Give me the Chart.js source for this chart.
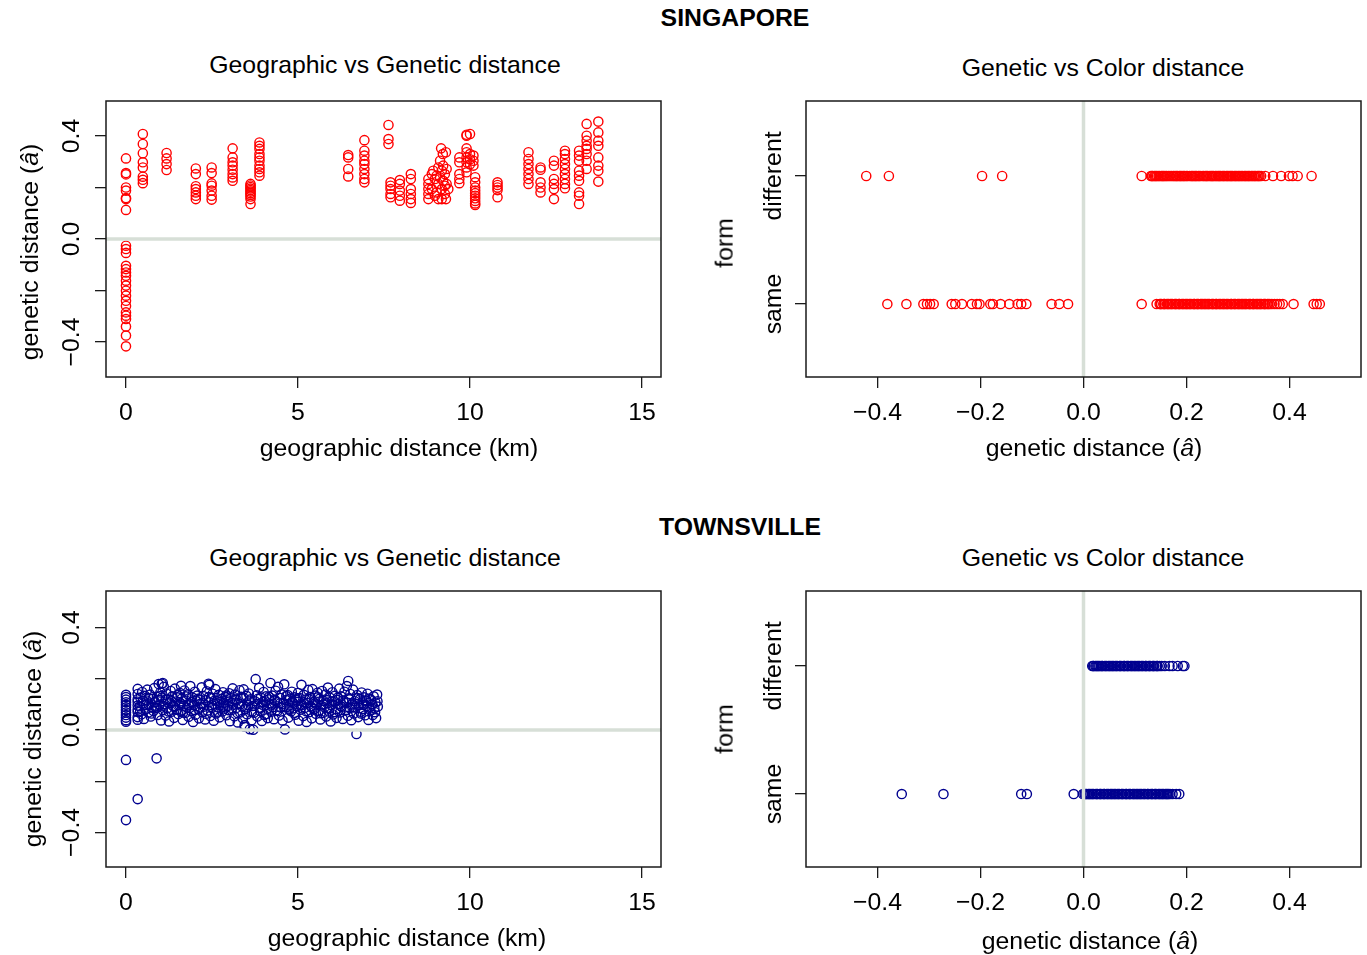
<!DOCTYPE html>
<html>
<head>
<meta charset="utf-8">
<script src="https://cdn.jsdelivr.net/npm/chart.js@4.4.1/dist/chart.umd.min.js"></script>
<style>
html,body{margin:0;padding:0;background:#fff;}
body{width:1367px;height:955px;position:relative;overflow:hidden;font-family:"Liberation Sans",Arial,Helvetica,sans-serif;}
canvas{position:absolute;}
.t{position:absolute;transform:translate(-50%,-50%);white-space:nowrap;font-size:24.8px;line-height:1;color:#000;}
.b{font-weight:bold;}
.r{transform:translate(-50%,-50%) rotate(-90deg);}
</style>
</head>
<body>
<canvas id="c1" width="683" height="380" style="left:0;top:90px"></canvas>
<canvas id="c2" width="667" height="380" style="left:700px;top:90px"></canvas>
<canvas id="c3" width="683" height="380" style="left:0;top:580px"></canvas>
<canvas id="c4" width="667" height="380" style="left:700px;top:580px"></canvas>

<div class="t b" style="left:735px;top:18px">SINGAPORE</div>
<div class="t" style="left:385px;top:65px">Geographic vs Genetic distance</div>
<div class="t" style="left:1103px;top:68px">Genetic vs Color distance</div>
<div class="t" style="left:399px;top:448px">geographic distance (km)</div>
<div class="t" style="left:1094px;top:448px">genetic distance (<i>â</i>)</div>
<div class="t r" style="left:30px;top:252px">genetic distance (<i>â</i>)</div>
<div class="t r" style="left:725px;top:243px">form</div>

<div class="t b" style="left:740px;top:527px">TOWNSVILLE</div>
<div class="t" style="left:385px;top:558px">Geographic vs Genetic distance</div>
<div class="t" style="left:1103px;top:558px">Genetic vs Color distance</div>
<div class="t" style="left:407px;top:938px">geographic distance (km)</div>
<div class="t" style="left:1090px;top:941px">genetic distance (<i>â</i>)</div>
<div class="t r" style="left:33px;top:739px">genetic distance (<i>â</i>)</div>
<div class="t r" style="left:725px;top:729px">form</div>

<script>
// ---------------- DATA ----------------
const geoTicks = [0, 5, 10, 15];
const geoTickLabels = ['0', '5', '10', '15'];
const genTicks = [-0.4, -0.2, 0, 0.2, 0.4];
const genTickLabelsX = ['\u22120.4', '\u22120.2', '0.0', '0.2', '0.4'];
const genTickLabelsY = ['\u22120.4', '', '0.0', '', '0.4'];
const formTicks = [1, 2];
const formCategories = ['same', 'different'];

// Singapore: geographic distance (km) vs genetic distance
const singGeoGen = [
[0,0.313],[0,0.256],[0,0.251],[0,0.2],[0,0.188],[0,0.159],[0,0.155],[0,0.113],
[0,-0.026],[0,-0.039],[0,-0.054],[0,-0.104],[0,-0.117],[0,-0.13],[0,-0.143],[0,-0.162],[0,-0.181],[0,-0.201],
[0,-0.22],[0,-0.24],[0,-0.26],[0,-0.285],[0,-0.298],[0,-0.311],[0,-0.34],[0,-0.375],[0,-0.417],
[0.49,0.408],[0.49,0.369],[0.49,0.333],[0.49,0.298],[0.49,0.278],[0.49,0.242],[0.49,0.23],[0.49,0.217],
[1.18,0.334],[1.18,0.313],[1.18,0.291],[1.18,0.268],
[2.03,0.274],[2.03,0.252],[2.03,0.205],[2.03,0.194],[2.03,0.181],[2.03,0.168],[2.03,0.155],
[2.49,0.278],[2.49,0.256],[2.49,0.216],[2.49,0.207],[2.49,0.188],[2.49,0.168],[2.49,0.153],
[3.1,0.352],[3.1,0.317],[3.1,0.298],[3.1,0.285],[3.1,0.269],[3.1,0.252],[3.1,0.239],[3.1,0.226],
[3.62,0.214],[3.62,0.208],[3.62,0.202],[3.62,0.196],[3.62,0.19],[3.62,0.184],[3.62,0.178],[3.62,0.172],[3.62,0.165],[3.62,0.155],[3.62,0.136],
[3.88,0.375],[3.88,0.362],[3.88,0.35],[3.88,0.33],[3.88,0.317],[3.88,0.304],[3.88,0.285],[3.88,0.272],[3.88,0.259],[3.88,0.246],
[6.46,0.326],[6.46,0.317],[6.46,0.272],[6.46,0.243],
[6.93,0.384],[6.93,0.343],[6.93,0.324],[6.93,0.304],[6.93,0.291],[6.93,0.272],[6.93,0.252],[6.93,0.233],[6.93,0.22],
[7.63,0.443],[7.63,0.388],[7.63,0.369],
[7.69,0.22],[7.69,0.207],[7.69,0.194],[7.69,0.175],[7.69,0.162],
[7.96,0.229],[7.96,0.214],[7.96,0.188],[7.96,0.168],[7.96,0.149],
[8.28,0.252],[8.28,0.233],[8.28,0.194],[8.28,0.175],[8.28,0.155],[8.28,0.14],
[8.79,0.233],[8.79,0.214],[8.79,0.194],[8.79,0.175],[8.79,0.155],
[9.16,0.352],[9.3,0.337],[9.21,0.33],[8.93,0.265],[9.13,0.304],[9.22,0.285],[9.32,0.272],[8.98,0.233],
[9.08,0.214],[9.18,0.194],[9.27,0.175],[9.3,0.155],[8.98,0.168],[9.08,0.155],[8.89,0.252],[9.03,0.246],
[9.13,0.239],[9.22,0.226],[9.32,0.214],[8.89,0.194],[9.03,0.181],[9.18,0.265],[9.27,0.252],[9.08,0.278],
[9.37,0.194],[9.18,0.155],[9.27,0.207],
[9.69,0.317],[9.69,0.298],[9.69,0.252],[9.69,0.233],[9.69,0.217],
[9.9,0.405],[9.9,0.401],[9.9,0.352],[9.9,0.337],[9.9,0.317],[9.9,0.298],[9.9,0.278],[9.9,0.259],
[10.0,0.408],[10.0,0.33],[10.0,0.31],[10.0,0.29],
[10.1,0.324],[10.1,0.304],[10.1,0.285],
[10.15,0.24],[10.15,0.22],[10.15,0.2],[10.15,0.188],[10.15,0.178],[10.15,0.168],[10.15,0.158],[10.15,0.148],[10.15,0.138],[10.15,0.132],
[10.8,0.22],[10.8,0.21],[10.8,0.2],[10.8,0.19],[10.8,0.162],
[11.7,0.337],[11.7,0.311],[11.7,0.291],[11.7,0.272],[11.7,0.252],[11.7,0.233],[11.7,0.214],
[12.05,0.278],[12.05,0.269],[12.05,0.22],[12.05,0.2],[12.05,0.181],
[12.44,0.304],[12.44,0.285],[12.44,0.233],[12.44,0.214],[12.44,0.194],[12.44,0.155],
[12.76,0.343],[12.76,0.33],[12.76,0.311],[12.76,0.291],[12.76,0.272],[12.76,0.252],[12.76,0.233],[12.76,0.214],[12.76,0.197],
[13.17,0.343],[13.17,0.324],[13.17,0.304],[13.17,0.265],[13.17,0.246],[13.17,0.226],[13.17,0.181],[13.17,0.168],[13.17,0.136],
[13.39,0.447],[13.39,0.401],[13.39,0.382],[13.39,0.362],[13.39,0.35],[13.39,0.33],[13.39,0.304],[13.39,0.272],
[13.73,0.456],[13.73,0.414],[13.73,0.382],[13.73,0.362],[13.73,0.317],[13.73,0.285],[13.73,0.265],[13.73,0.223]
];

// Singapore: genetic distance by colour form
const singGenDifferent = [
-0.422,-0.378,-0.197,-0.158,0.113,
0.131,0.134,0.139,0.141,0.146,0.148,0.153,0.157,0.16,0.165,0.168,0.171,0.176,0.179,0.183,0.186,0.19,0.195,
0.197,0.202,0.206,0.209,0.213,0.218,0.22,0.225,0.228,0.232,0.237,0.239,0.244,0.247,0.251,0.256,0.258,0.263,
0.267,0.27,0.274,0.279,0.281,0.286,0.29,0.293,0.297,0.302,0.304,0.309,0.312,0.316,0.321,0.323,0.328,0.331,
0.335,0.34,0.342,0.345,0.353,0.368,0.384,0.399,0.406,0.416,0.443,
0.133,0.137,0.143,0.151,0.155,0.162,0.174,0.181,0.188,0.193,0.2,0.211,0.216,0.223,0.234,0.241,0.249,
0.253,0.261,0.265,0.272,0.277,0.284,0.288,0.295,0.3,0.307,0.314,0.319,0.326,0.333,0.338
];
const singGenSame = [
-0.381,-0.344,-0.311,-0.304,-0.298,-0.291,-0.256,-0.249,-0.236,-0.217,-0.207,-0.202,-0.181,-0.176,-0.161,
-0.144,-0.128,-0.121,-0.111,-0.062,-0.047,-0.03,0.113,0.142,
0.148,0.151,0.155,0.158,0.162,0.166,0.169,0.173,0.177,0.18,0.184,0.187,0.191,0.195,0.198,0.202,0.205,0.209,
0.213,0.216,0.22,0.223,0.227,0.231,0.234,0.238,0.241,0.245,0.249,0.252,0.256,0.259,0.263,0.267,0.27,0.274,
0.277,0.281,0.285,0.288,0.292,0.295,0.299,0.303,0.306,0.31,0.313,0.317,0.321,0.324,0.328,0.331,0.335,0.339,
0.342,0.346,0.35,0.353,0.357,0.362,0.366,0.371,0.376,0.381,0.387,0.408,0.447,0.453,0.459,
0.15,0.157,0.164,0.171,0.179,0.186,0.193,0.2,0.207,0.215,0.222,0.229,0.236,0.243,0.251,0.258,0.265,
0.272,0.279,0.287,0.294,0.301,0.308,0.315,0.323,0.33,0.337,0.344,0.352,0.359
];

// Townsville: geographic distance (km) vs genetic distance
const townGeoGen = [
[0,0.137],[0,0.128],[0,0.118],[0,0.108],[0,0.098],[0,0.088],[0,0.078],[0,0.068],[0,0.058],[0,0.048],[0,0.038],[0,0.032],
[0,-0.117],[0,-0.352],
[0.34,0.16],[0.34,0.14],[0.34,0.12],[0.34,0.11],[0.34,0.095],[0.34,0.08],[0.34,0.07],[0.34,0.05],[0.34,0.04],[0.34,-0.27],
[0.89,-0.111],[0.95,0.179],[1.04,0.18],[1.07,0.183],[1.6,0.172],[2.4,0.18],[3.45,0.012],
[0.40,0.092],[0.42,0.125],[0.45,0.061],[0.47,0.148],[0.50,0.104],[0.52,0.043],[0.55,0.133],[0.57,0.081],[0.60,0.115],[0.62,0.157],
[0.65,0.068],[0.67,0.099],[0.70,0.138],[0.72,0.052],[0.75,0.089],[0.77,0.121],[0.80,0.074],[0.82,0.163],[0.85,0.108],[0.87,0.086],
[0.90,0.129],[0.92,0.058],[0.95,0.117],[0.97,0.096],[1.00,0.146],[1.02,0.037],[1.05,0.126],[1.07,0.077],[1.10,0.168],[1.12,0.101],
[1.15,0.056],[1.17,0.142],[1.20,0.084],[1.22,0.119],[1.25,0.033],[1.27,0.106],[1.30,0.152],[1.32,0.071],[1.35,0.131],[1.37,0.093],
[1.40,0.047],[1.42,0.161],[1.45,0.111],[1.47,0.079],[1.50,0.136],[1.52,0.062],[1.55,0.098],[1.57,0.144],[1.60,0.076],[1.62,0.122],
[1.65,0.039],[1.67,0.094],[1.70,0.154],[1.72,0.066],[1.75,0.114],[1.77,0.087],[1.80,0.139],[1.82,0.051],[1.85,0.103],[1.87,0.171],
[1.90,0.073],[1.92,0.127],[1.95,0.031],[1.97,0.097],[2.00,0.149],[2.02,0.059],[2.05,0.112],[2.07,0.134],[2.10,0.082],[2.12,0.045],
[2.15,0.118],[2.17,0.102],[2.20,0.166],[2.22,0.069],[2.25,0.132],[2.27,0.091],[2.30,0.041],[2.32,0.116],[2.35,0.151],[2.37,0.076],
[2.40,0.107],[2.42,0.176],[2.45,0.054],[2.47,0.124],[2.50,0.086],[2.52,0.141],[2.55,0.036],[2.57,0.101],[2.60,0.159],[2.62,0.064],
[2.65,0.113],[2.67,0.088],[2.70,0.137],[2.72,0.049],[2.75,0.096],[2.77,0.121],[2.80,0.072],[2.82,0.147],[2.85,0.105],[2.87,0.083],
[2.90,0.128],[2.92,0.057],[2.95,0.115],[2.97,0.094],[3.00,0.143],[3.02,0.034],[3.05,0.123],[3.07,0.078],[3.10,0.162],[3.12,0.099],
[3.15,0.053],[3.17,0.138],[3.20,0.085],[3.22,0.117],[3.25,0.029],[3.27,0.104],[3.30,0.155],[3.32,0.068],[3.35,0.129],[3.37,0.091],
[3.40,0.044],[3.42,0.158],[3.45,0.019],[3.47,0.081],[3.50,0.133],[3.52,0.061],[3.55,0.097],[3.57,0.142],[3.60,0.003],[3.62,0.119],
[3.65,0.038],[3.67,0.093],[3.70,0.001],[3.72,0.067],[3.75,0.112],[3.77,0.198],[3.80,0.135],[3.82,0.052],[3.85,0.102],[3.87,0.164],
[3.90,0.074],[3.92,0.126],[3.95,0.035],[3.97,0.098],[4.00,0.148],[4.02,0.058],[4.05,0.111],[4.07,0.131],[4.10,0.083],[4.12,0.046],
[4.15,0.119],[4.17,0.103],[4.20,0.183],[4.22,0.071],[4.25,0.134],[4.27,0.089],[4.30,0.042],[4.32,0.114],[4.35,0.153],[4.37,0.077],
[4.40,0.108],[4.42,0.168],[4.45,0.056],[4.47,0.125],[4.50,0.087],[4.52,0.139],[4.55,0.037],[4.57,0.102],[4.60,0.178],[4.62,0.002],
[4.65,0.116],[4.67,0.089],[4.70,0.136],[4.72,0.048],[4.75,0.095],[4.77,0.122],[4.80,0.073],[4.82,0.149],[4.85,0.106],[4.87,0.084],
[4.90,0.127],[4.92,0.059],[4.95,0.116],[4.97,0.093],[5.00,0.144],[5.02,0.036],[5.05,0.124],[5.07,0.079],[5.10,0.176],[5.12,0.098],
[5.15,0.054],[5.17,0.137],[5.20,0.086],[5.22,0.118],[5.25,0.031],[5.27,0.105],[5.30,0.156],[5.32,0.069],[5.35,0.128],[5.37,0.092],
[5.40,0.045],[5.42,0.159],[5.45,0.109],[5.47,0.082],[5.50,0.134],[5.52,0.063],[5.55,0.099],[5.57,0.145],[5.60,0.075],[5.62,0.121],
[5.65,0.041],[5.67,0.095],[5.70,0.152],[5.72,0.066],[5.75,0.113],[5.77,0.088],[5.80,0.138],[5.82,0.052],[5.85,0.104],[5.87,0.165],
[5.90,0.072],[5.92,0.126],[5.95,0.033],[5.97,0.097],[6.00,0.147],[6.02,0.06],[6.05,0.111],[6.07,0.133],[6.10,0.081],[6.12,0.047],
[6.15,0.117],[6.17,0.101],[6.20,0.161],[6.22,0.068],[6.25,0.131],[6.27,0.09],[6.30,0.043],[6.32,0.115],[6.35,0.149],[6.37,0.076],
[6.40,0.106],[6.42,0.171],[6.45,0.055],[6.46,0.191],[6.47,0.123],[6.50,0.085],[6.52,0.14],[6.55,0.038],[6.57,0.1],[6.60,0.157],
[6.62,0.064],[6.65,0.112],[6.67,0.087],[6.70,-0.016],[6.72,0.136],[6.75,0.05],[6.77,0.096],[6.80,0.12],[6.82,0.071],[6.85,0.146],
[6.87,0.104],[6.90,0.082],[6.92,0.127],[6.95,0.057],[6.97,0.114],[7.00,0.093],[7.02,0.141],[7.05,0.039],[7.07,0.122],[7.10,0.078],
[7.12,0.118],[7.15,0.099],[7.17,0.058],[7.20,0.131],[7.22,0.084],[7.25,0.107],[7.27,0.046],[7.30,0.138],[7.32,0.091],
[0.41,0.071],[0.49,0.113],[0.58,0.097],[0.66,0.124],[0.74,0.064],[0.83,0.109],[0.91,0.087],[0.99,0.132],[1.08,0.094],[1.16,0.118],
[1.24,0.072],[1.33,0.112],[1.41,0.089],[1.49,0.127],[1.58,0.105],[1.66,0.068],[1.74,0.131],[1.83,0.096],[1.91,0.109],[1.99,0.078],
[2.08,0.121],[2.16,0.088],[2.24,0.104],[2.33,0.063],[2.41,0.128],[2.49,0.097],[2.58,0.115],[2.66,0.071],[2.74,0.109],[2.83,0.091],
[2.91,0.134],[2.99,0.077],[3.08,0.106],[3.16,0.119],[3.24,0.066],[3.33,0.101],[3.41,0.126],[3.49,0.088],[3.58,0.114],[3.66,0.071],
[3.74,0.094],[3.83,0.121],[3.91,0.086],[3.99,0.109],[4.08,0.062],[4.16,0.129],[4.24,0.098],[4.33,0.117],[4.41,0.074],[4.49,0.105],
[4.58,0.091],[4.66,0.132],[4.74,0.079],[4.83,0.111],[4.91,0.067],[4.99,0.123],[5.08,0.096],[5.16,0.108],[5.24,0.073],[5.33,0.119],
[5.41,0.086],[5.49,0.104],[5.58,0.127],[5.66,0.065],[5.74,0.099],[5.83,0.116],[5.91,0.084],[5.99,0.111],[6.08,0.069],[6.16,0.126],
[6.24,0.093],[6.33,0.107],[6.41,0.078],[6.49,0.119],[6.58,0.088],[6.66,0.103],[6.74,0.124],[6.83,0.064],[6.91,0.098],[6.99,0.115],
[7.08,0.087],[7.16,0.101],[7.24,0.069],[7.31,0.112]
];

// Townsville: genetic distance by colour form
const townGenDifferent = [
0.017,0.02,0.023,0.027,0.031,0.034,0.037,0.041,0.045,0.048,0.052,0.055,0.059,0.062,0.066,0.07,0.073,0.077,
0.08,0.084,0.087,0.091,0.095,0.098,0.102,0.105,0.109,0.112,0.116,0.12,0.123,0.127,0.13,0.134,0.137,0.141,
0.144,0.148,0.152,0.158,0.167,0.173,0.183,0.193,0.196,
0.019,0.025,0.029,0.036,0.043,0.05,0.057,0.064,0.071,0.079,0.086,0.093,0.1,0.107,0.114,0.121,0.128,0.136,0.143
];
const townGenSame = [
-0.353,-0.272,-0.121,-0.11,-0.019,-0.001,
0.002,0.006,0.009,0.013,0.016,0.02,0.024,0.027,0.031,0.034,0.038,0.041,0.045,0.049,0.052,0.056,0.059,0.063,
0.066,0.07,0.074,0.077,0.081,0.084,0.088,0.091,0.095,0.099,0.102,0.106,0.109,0.113,0.116,0.12,0.124,0.127,
0.131,0.134,0.138,0.141,0.145,0.149,0.152,0.156,0.159,0.163,0.165,0.168,0.173,0.18,0.186,
0.004,0.011,0.018,0.026,0.033,0.04,0.047,0.054,0.061,0.068,0.075,0.083,0.09,0.097,0.104,0.111,0.118,0.125,
0.133,0.14,0.147,0.154,0.161
];

// ---------------- RENDER ----------------
const FONT = '24.8px "Liberation Sans", Arial, Helvetica, sans-serif';
const RED = '#ff0000';
const NAVY = '#00008f';

const annotPlugin = {
  id: 'annot',
  afterDatasetsDraw(chart, args, o) {
    const ctx = chart.ctx, a = chart.chartArea;
    ctx.save();
    ctx.strokeStyle = '#d7dfd7';
    ctx.lineWidth = 3.5;
    ctx.beginPath();
    if (o.ref === 'h') {
      const y = chart.scales.y.getPixelForValue(0);
      ctx.moveTo(a.left, y); ctx.lineTo(a.right, y);
    } else {
      const x = chart.scales.x.getPixelForValue(0);
      ctx.moveTo(x, a.top); ctx.lineTo(x, a.bottom);
    }
    ctx.stroke();
    ctx.restore();
  },
  afterDraw(chart, args, o) {
    const ctx = chart.ctx, a = chart.chartArea;
    ctx.save();
    ctx.strokeStyle = '#1a1a1a';
    ctx.lineWidth = 1.5;
    ctx.strokeRect(a.left, a.top, a.right - a.left, a.bottom - a.top);
    ctx.font = FONT;
    ctx.fillStyle = '#000';
    ctx.textAlign = 'center';
    ctx.textBaseline = 'alphabetic';
    o.xTicks.forEach((v, i) => {
      const lab = o.xLabels[i];
      if (!lab) return;
      ctx.fillText(lab, chart.scales.x.getPixelForValue(v), a.bottom + 43);
    });
    o.yTicks.forEach((v, i) => {
      const lab = o.yLabels[i];
      if (!lab) return;
      const y = chart.scales.y.getPixelForValue(v);
      ctx.save();
      ctx.translate(a.left - o.yOff, y);
      ctx.rotate(-Math.PI / 2);
      ctx.fillText(lab, 0, 0);
      ctx.restore();
    });
    ctx.restore();
  }
};

function axis(min, max, ticks, fitProp, fitVal) {
  return {
    type: 'linear', min: min, max: max,
    afterBuildTicks: s => { s.ticks = ticks.map(v => ({ value: v })); },
    afterFit: s => { s[fitProp] = fitVal; },
    grid: { drawOnChartArea: false, drawTicks: true, tickLength: 11, color: '#1a1a1a', lineWidth: 1.3 },
    border: { display: false },
    ticks: { display: false }
  };
}

function make(id, points, color, xr, yr, xTicks, xLabels, yTicks, yLabels, yOff, ref, padRight) {
  return new Chart(document.getElementById(id), {
    type: 'scatter',
    data: { datasets: [{
      data: points,
      pointStyle: 'circle', pointRadius: 4.6, pointHoverRadius: 4.6,
      borderWidth: 1.4, borderColor: color, backgroundColor: 'rgba(0,0,0,0)'
    }] },
    options: {
      responsive: false, animation: false, events: [],
      layout: { padding: { left: 0, right: padRight, top: 11, bottom: 0 } },
      plugins: { legend: { display: false }, tooltip: { enabled: false },
        annot: { xTicks, xLabels, yTicks, yLabels, yOff, ref } },
      scales: {
        x: axis(xr[0], xr[1], xTicks, 'height', 93),
        y: axis(yr[0], yr[1], yTicks, 'width', 106)
      }
    },
    plugins: [annotPlugin]
  });
}

const pts = arr => arr.map(p => ({ x: p[0], y: p[1] }));
const rowPts = (arr, level) => arr.map(v => ({ x: v, y: level }));

make('c1', pts(singGeoGen), RED, [-0.581, 15.552], [-0.536, 0.536],
     geoTicks, geoTickLabels, genTicks, genTickLabelsY, 27, 'h', 22);
make('c2', rowPts(singGenSame, 1).concat(rowPts(singGenDifferent, 2)), RED, [-0.539, 0.539], [0.43, 2.586],
     genTicks, genTickLabelsX, formTicks, formCategories, 25, 'v', 6);
make('c3', pts(townGeoGen), NAVY, [-0.581, 15.552], [-0.535, 0.542],
     geoTicks, geoTickLabels, genTicks, genTickLabelsY, 27, 'h', 22);
make('c4', rowPts(townGenSame, 1).concat(rowPts(townGenDifferent, 2)), NAVY, [-0.539, 0.539], [0.43, 2.586],
     genTicks, genTickLabelsX, formTicks, formCategories, 25, 'v', 6);
</script>
</body>
</html>
